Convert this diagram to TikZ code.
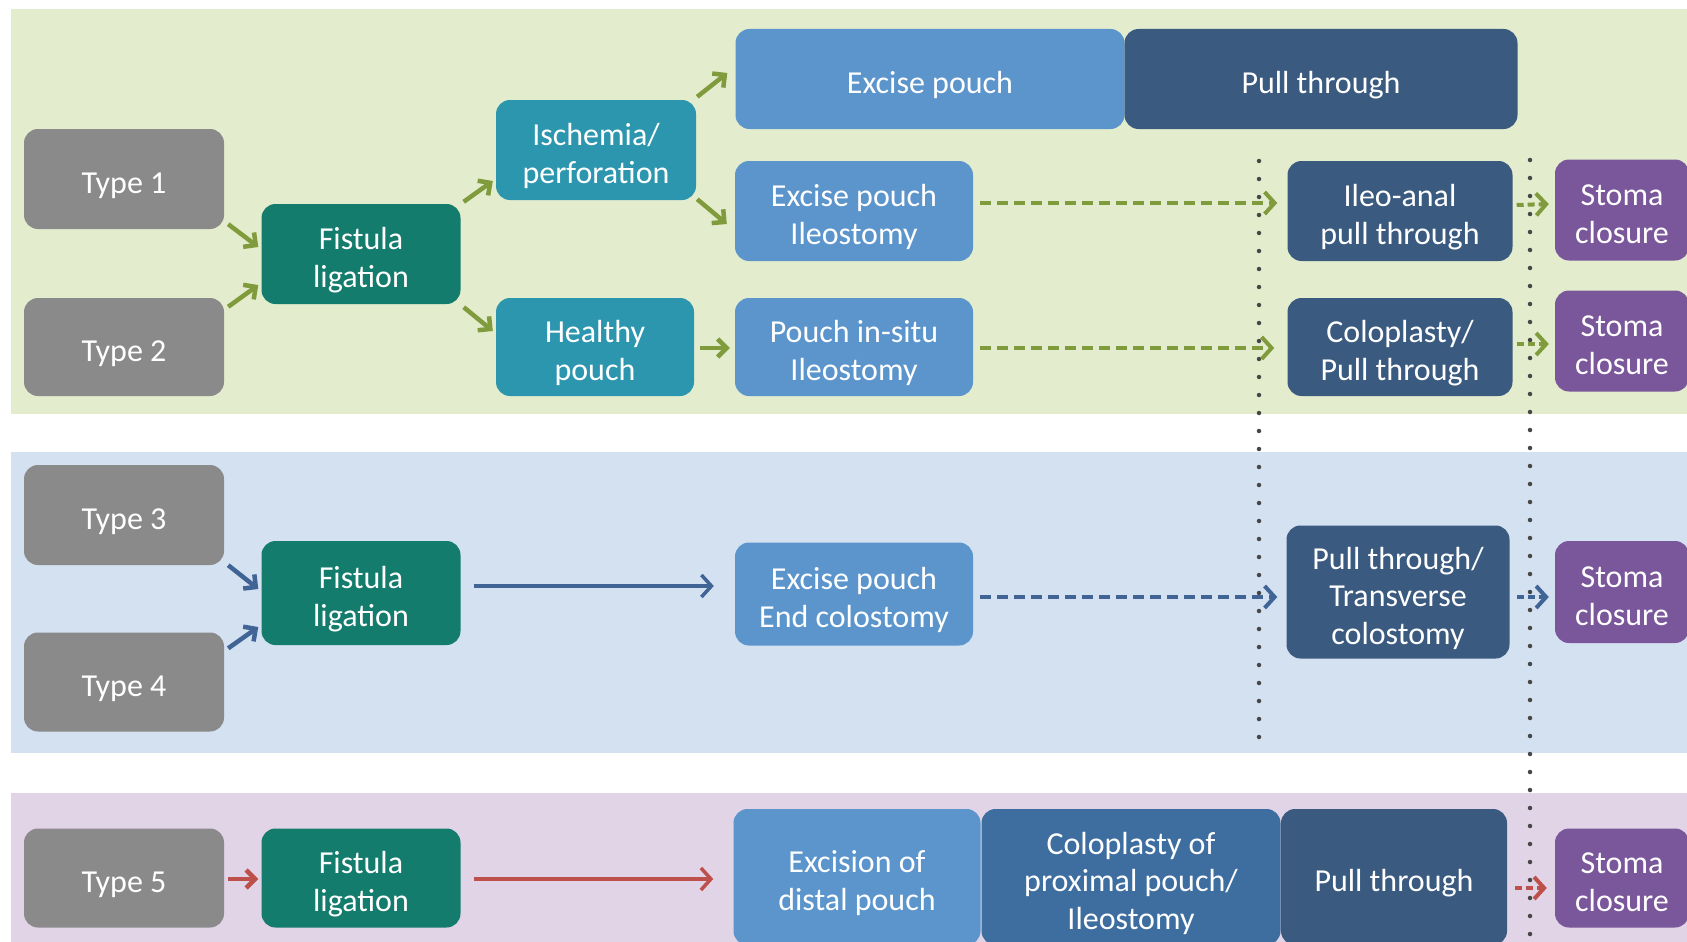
\documentclass[tikz,border=0pt]{standalone}
\usepackage{fontspec}
\setmainfont{Carlito}
\usetikzlibrary{arrows.meta,calc}
\definecolor{bandG}{RGB}{228,236,206}
\definecolor{bandB}{RGB}{212,225,241}
\definecolor{bandP}{RGB}{225,212,230}
\definecolor{cgray}{RGB}{138,138,138}
\definecolor{cteal}{RGB}{20,124,108}
\definecolor{ccyan}{RGB}{45,150,175}
\definecolor{clblue}{RGB}{91,149,204}
\definecolor{cmblue}{RGB}{62,110,160}
\definecolor{cdblue}{RGB}{58,90,128}
\definecolor{cpurple}{RGB}{122,86,155}
\definecolor{agreen}{RGB}{128,155,60}
\definecolor{ablue}{RGB}{64,100,150}
\definecolor{ared}{RGB}{190,80,75}
\definecolor{dotc}{RGB}{70,70,70}
\newcommand{\tx}[1]{\raisebox{-7pt}[\height][\depth]{\begin{tabular}{@{}c@{}}#1\end{tabular}}}
\begin{document}
\begin{tikzpicture}[x=1pt,y=-1pt,
  bx/.style={rounded corners=14pt, inner sep=0pt, text=white,
    font=\fontsize{32}{37.5}\selectfont},
  sarrow/.style={line width=4.5pt, -{Straight Barb[length=9pt,width=18pt]}},
  larrow/.style={line width=3.5pt, -{Straight Barb[length=10pt,width=22pt]}},
  darrow/.style={line width=4pt, dash pattern=on 11pt off 6pt, -{Straight Barb[length=10pt,width=22pt]}},
  dotline/.style={draw=dotc, line width=4.5pt, line cap=round, dash pattern=on 0pt off 18pt}
]
\useasboundingbox (0,0) rectangle (1687,942);
\fill[white] (0,0) rectangle (1687,942);
\fill[bandG] (11,9) rectangle (1687,414);
\fill[bandB] (11,452) rectangle (1687,753);
\fill[bandP] (11,793) rectangle (1687,942);

% dotted separators
\coordinate (d1a) at (1259,161);
\coordinate (d1b) at (1259,742);
\coordinate (d2a) at (1530,160);
\coordinate (d2b) at (1530,942);
\draw[dotline] (d1a) -- (d1b);
\draw[dotline] (d2a) -- (d2b);

% band 1
\node[bx, fill=cgray, minimum width=200pt, minimum height=100pt] (t1) at (124,179) {\tx{Type 1}};
\node[bx, fill=cgray, minimum width=200pt, minimum height=98pt] (t2) at (124,347) {\tx{Type 2}};
\node[bx, fill=cteal, minimum width=199pt, minimum height=100pt] (f1) at (361,254) {\tx{Fistula\\ligation}};
\node[bx, fill=ccyan, minimum width=200pt, minimum height=100pt] (isch) at (596,150) {\tx{Ischemia/\\perforation}};
\node[bx, fill=ccyan, minimum width=198pt, minimum height=98pt] (heal) at (595,347) {\tx{Healthy\\pouch}};
\node[bx, fill=clblue, minimum width=389pt, minimum height=100pt] (exc) at (930,79) {\tx{Excise pouch}};
\node[bx, fill=cdblue, minimum width=393pt, minimum height=100pt] (pt1) at (1321,79) {\tx{Pull through}};
\node[bx, fill=clblue, minimum width=238pt, minimum height=100pt] (exi) at (854,211) {\tx{Excise pouch\\Ileostomy}};
\node[bx, fill=clblue, minimum width=238pt, minimum height=98pt] (pis) at (854,347) {\tx{Pouch in-situ\\Ileostomy}};
\node[bx, fill=cdblue, minimum width=225pt, minimum height=100pt] (ileo) at (1400,211) {\tx{Ileo-anal\\pull through}};
\node[bx, fill=cdblue, minimum width=225pt, minimum height=98pt] (colo) at (1400,347) {\tx{Coloplasty/\\Pull through}};
\node[bx, fill=cpurple, minimum width=134pt, minimum height=101pt] (s1) at (1622,210) {\tx{Stoma\\closure}};
\node[bx, fill=cpurple, minimum width=134pt, minimum height=101pt] (s2) at (1622,341) {\tx{Stoma\\closure}};

% band 2
\node[bx, fill=cgray, minimum width=200pt, minimum height=100pt] (t3) at (124,515) {\tx{Type 3}};
\node[bx, fill=cgray, minimum width=200pt, minimum height=99pt] (t4) at (124,682) {\tx{Type 4}};
\node[bx, fill=cteal, minimum width=199pt, minimum height=104pt] (f2) at (361,593) {\tx{Fistula\\ligation}};
\node[bx, fill=clblue, minimum width=238pt, minimum height=103pt] (eec) at (854,594) {\tx{Excise pouch\\End colostomy}};
\node[bx, fill=cdblue, minimum width=223pt, minimum height=133pt] (ptt) at (1398,592) {\tx{Pull through/\\Transverse\\colostomy}};
\node[bx, fill=cpurple, minimum width=134pt, minimum height=102pt] (s3) at (1622,592) {\tx{Stoma\\closure}};

% band 3
\node[bx, fill=cgray, minimum width=200pt, minimum height=99pt] (t5) at (124,878) {\tx{Type 5}};
\node[bx, fill=cteal, minimum width=199pt, minimum height=99pt] (f3) at (361,878) {\tx{Fistula\\ligation}};
\node[bx, fill=clblue, minimum width=247pt, minimum height=136pt] (exd) at (857,877) {\tx{Excision of\\distal pouch}};
\node[bx, fill=cmblue, minimum width=299pt, minimum height=136pt] (cpp) at (1131,877) {\tx{Coloplasty of\\proximal pouch/\\Ileostomy}};
\node[bx, fill=cdblue, minimum width=226pt, minimum height=136pt] (pt3) at (1394,877) {\tx{Pull through}};
\node[bx, fill=cpurple, minimum width=134pt, minimum height=99pt] (s4) at (1622,878) {\tx{Stoma\\closure}};

% arrows band 1
\draw[sarrow, draw=agreen] ($(t1.south east)+(4,-5)$) -- ($(f1.west)+(-3,-7)$);
\draw[sarrow, draw=agreen] ($(t2.north east)+(4,9)$) -- ($(f1.west)+(-3,31)$);
\draw[sarrow, draw=agreen] ($(f1.north east)+(3,-2)$) -- ($(isch.west)+(-3,31)$);
\draw[sarrow, draw=agreen] ($(f1.south east)+(3,3)$) -- ($(heal.west)+(-3,-16)$);
\draw[sarrow, draw=agreen] ($(isch.north east)+(1,-3)$) -- ($(exc.west)+(-8,-6)$);
\draw[sarrow, draw=agreen] ($(isch.south east)+(1,-1)$) -- ($(exi.west)+(-8,13)$);
\draw[sarrow, draw=agreen] ($(heal.east)+(6,1)$) -- ($(pis.west)+(-5,1)$);
\draw[darrow, draw=agreen] ($(exi.east)+(7,-8)$) -- ($(ileo.west)+(-10,-8)$);
\draw[darrow, draw=agreen] ($(pis.east)+(7,1)$) -- ($(colo.west)+(-13,1)$);
\draw[darrow, draw=agreen, dash pattern=on 7pt off 4pt] ($(ileo.east)+(4,-6)$) -- ($(s1.west)+(-6,-6)$);
\draw[darrow, draw=agreen, dash pattern=on 7pt off 4pt] ($(colo.east)+(4,-3)$) -- ($(s2.west)+(-6,3)$);

% arrows band 2
\draw[sarrow, draw=ablue] ($(t3.south east)+(4,0)$) -- ($(f2.west)+(-3,-4)$);
\draw[sarrow, draw=ablue] ($(t4.north east)+(4,16)$) -- ($(f2.west)+(-3,34)$);
\draw[larrow, draw=ablue] ($(f2.east)+(13,-7)$) -- ($(eec.west)+(-21,-8)$);
\draw[darrow, draw=ablue] ($(eec.east)+(7,3)$) -- ($(ptt.west)+(-9,5)$);
\draw[darrow, draw=ablue, dash pattern=on 7pt off 4pt] ($(ptt.east)+(7,5)$) -- ($(s3.west)+(-6,5)$);

% arrows band 3
\draw[sarrow, draw=ared] ($(t5.east)+(4,1)$) -- ($(f3.west)+(-3,1)$);
\draw[larrow, draw=ared] ($(f3.east)+(13,1)$) -- ($(exd.west)+(-20,2)$);
\draw[darrow, draw=ared, dash pattern=on 7pt off 4pt] ($(pt3.east)+(8,11)$) -- ($(s4.west)+(-8,10)$);
\end{tikzpicture}
\end{document}
